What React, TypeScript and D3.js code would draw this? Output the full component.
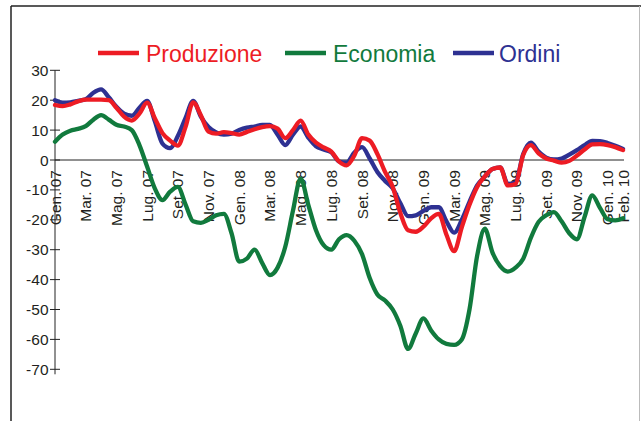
import React from "react";
import * as d3 from "d3";

// half-month sampling, Gen. 07 .. Feb. 10
const monthLabels = [
  "Gen. 07", "Mar. 07", "Mag. 07", "Lug. 07", "Set. 07", "Nov. 07",
  "Gen. 08", "Mar. 08", "Mag. 08", "Lug. 08", "Set. 08", "Nov. 08",
  "Gen. 09", "Mar. 09", "Mag. 09", "Lug. 09", "Set. 09", "Nov. 09",
  "Gen. 10", "Feb. 10",
];
const labelMonths = [0, 2, 4, 6, 8, 10, 12, 14, 16, 18, 20, 22, 24, 26, 28, 30, 32, 34, 36, 37];

const produzione = [
  18.4, 18, 18.6, 19.6, 20.2, 20.2, 20.2, 20, 17.5, 14.5,
  13.2, 15.5, 19.2, 14, 9, 6.5, 4.8, 11, 19.3, 15,
  9.5, 8.8, 9.3, 9, 8.5, 9.4, 10.3, 11, 11.3, 10.5,
  7.3, 10, 13.2, 8.5, 5.8, 4.2, 2.8, -0.5, -1.8, 1.5,
  7.3, 6.5, 2, -4, -9, -17.8, -23.5, -24, -22.3, -19.5,
  -18, -25, -30.5, -22.5, -15, -9, -5.5, -3, -2.5, -8.5,
  -8, 1.7, 5, 2.2, 0.5, -0.2, -0.9, -0.3, 1.5, 3.5,
  5.2, 5.3, 5, 4.3, 3.3,
];
const economia = [
  6.1, 8.5, 9.8, 10.4, 11.3, 13.5, 15, 13.5, 11.8, 11.2,
  10, 5, -2.2, -9.5, -13.4, -10.6, -9, -14.8, -20.5, -21,
  -20, -18.5, -18, -24.5, -34, -33, -30, -34.5, -38.5, -36,
  -29, -17, -6.2, -15, -23.5, -28.5, -30, -26.5, -25.1, -27,
  -31.5, -39.5, -45, -47, -50, -55.5, -63.2, -58, -53, -57,
  -60, -61.5, -61.8, -60, -50, -32, -23, -31, -35.5, -37.3,
  -36, -33, -26, -20.7, -18.5, -17.4, -20.5, -24.5, -26.5, -19,
  -11.8, -16, -19.8, -20.2, -19.5,
];
const ordini = [
  20, 19.2, 19.3, 19.8, 20.3, 22.5, 23.6, 21, 17.8, 15.5,
  14.8, 17.5, 19.8, 13, 5.5, 4, 8, 14, 19.8, 14.5,
  11, 9.2, 8.5, 8.8, 10, 10.8, 11.2, 11.7, 11.7, 8.5,
  5, 8.5, 11.2, 7.5, 4.6, 3.5, 2.6, -0.5, -0.8, 2.5,
  4.3, 0.5, -4, -7, -9.5, -14.5, -18.8, -18.5, -17, -15.8,
  -15.8, -20.5, -24.3, -20, -14, -8.5, -5.5, -3, -2.5, -8,
  -7.5, 2, 5.8, 2.8, 0.8, 0.2, 0.5, 1.8, 3.3, 5,
  6.4, 6.3, 5.7, 4.8, 3.7,
];
const yTicks = [30, 20, 10, 0, -10, -20, -30, -40, -50, -60, -70];

const seriesNames = ["Produzione", "Economia", "Ordini"];
const seriesColors = ["#ed1c24", "#117a3d", "#2e3192"];

export default function App() {
  const x = d3.scaleLinear().domain([0, 74]).range([55, 623]);
  const y = d3.scaleLinear().domain([-70, 30]).range([369.3, 70.3]);
  const line = d3
    .line<number>()
    .x((_, i) => x(i))
    .y((d) => y(d))
    .curve(d3.curveMonotoneX);

  const axisX = 55;
  const legendItems = [
    { name: seriesNames[0], color: seriesColors[0], x1: 98, tx: 146 },
    { name: seriesNames[1], color: seriesColors[1], x1: 285, tx: 333 },
    { name: seriesNames[2], color: seriesColors[2], x1: 453, tx: 499 },
  ];
  const font = "'Liberation Sans', Arial, sans-serif";

  return (
    <svg
      width={641}
      height={421}
      style={{ position: "absolute", left: 0, top: 0, background: "#fff" }}
      fontFamily={font}
    >
      <rect x={0} y={0} width={641} height={421} fill="#fff" />
      {/* outer frame */}
      <line x1={11} y1={6} x2={641} y2={6} stroke="#222" strokeWidth={1.5} />
      <line x1={11} y1={6} x2={11} y2={421} stroke="#222" strokeWidth={1.5} />
      <line x1={639.5} y1={6} x2={639.5} y2={421} stroke="#bbb" strokeWidth={1} />

      {/* legend */}
      {legendItems.map((it) => (
        <g key={it.name}>
          <line x1={it.x1} x2={it.x1 + 41} y1={53} y2={53} stroke={it.color} strokeWidth={4.5} />
          <text x={it.tx} y={61.5} fontSize={23} fill={it.color}>
            {it.name}
          </text>
        </g>
      ))}

      {/* y axis */}
      <line x1={axisX} x2={axisX} y1={y(30)} y2={y(-70) + 5} stroke="#222" strokeWidth={1} />
      {yTicks.map((t) => (
        <g key={t}>
          <line x1={axisX - 5} x2={axisX + 5} y1={y(t)} y2={y(t)} stroke="#222" strokeWidth={1} />
          <text
            x={48.5}
            y={y(t)}
            fontSize={15.5}
            textAnchor="end"
            dominantBaseline="central"
            fill="#231f20"
          >
            {t}
          </text>
        </g>
      ))}

      {/* zero line */}
      <line x1={axisX} x2={624} y1={y(0)} y2={y(0)} stroke="#222" strokeWidth={1} />

      {/* x labels */}
      {monthLabels.map((lab, i) => {
        const px = x(labelMonths[i] * 2);
        return (
          <text
            key={lab}
            transform={`translate(${px},170) rotate(-90)`}
            fontSize={15.5}
            textAnchor="end"
            dominantBaseline="central"
            fill="#231f20"
          >
            {lab}
          </text>
        );
      })}

      {/* series */}
      <path d={line(ordini) || ""} fill="none" stroke={seriesColors[2]} strokeWidth={4.3} strokeLinejoin="round" strokeLinecap="round" />
      <path d={line(economia) || ""} fill="none" stroke={seriesColors[1]} strokeWidth={4.3} strokeLinejoin="round" strokeLinecap="round" />
      <path d={line(produzione) || ""} fill="none" stroke={seriesColors[0]} strokeWidth={4.3} strokeLinejoin="round" strokeLinecap="round" />
    </svg>
  );
}
